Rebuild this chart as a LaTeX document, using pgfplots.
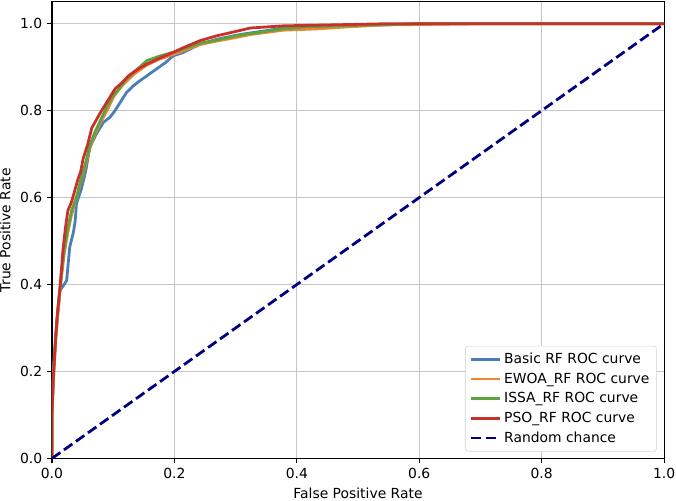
\documentclass[border=0pt]{standalone}
\usepackage{pgfplots}
\pgfplotsset{compat=1.18}
\usepackage{fontspec}
\setmainfont{DejaVu Sans}
\definecolor{cblue}{HTML}{4A7EBB}
\definecolor{corange}{HTML}{EE8631}
\definecolor{cgreen}{HTML}{5BA33F}
\definecolor{cred}{HTML}{C9302C}
\definecolor{cnavy}{HTML}{000080}
\begin{document}
\begin{tikzpicture}
\begin{axis}[
  scale only axis,
  width=440.6pt, height=328.6pt,
  xmin=0, xmax=1, ymin=0, ymax=1.05,
  xtick={0,0.2,...,1.0}, ytick={0,0.2,...,1.0},
  /pgf/number format/assume math mode=true,
  /pgf/number format/fixed, /pgf/number format/fixed zerofill, /pgf/number format/precision=1,
  tick label style={font=\fontsize{10}{12}\selectfont},
  label style={font=\fontsize{10}{12}\selectfont},
  xlabel={False Positive Rate}, ylabel={True Positive Rate},
  tick align=outside, tick pos=left,
  major tick length=3.5pt,
  every tick/.style={black, line width=0.8pt},
  axis line style={line width=0.8pt},
  grid=major, grid style={color=gray!45, line width=0.8pt},
  legend cell align=left,
  legend style={font=\fontsize{10}{12}\selectfont, draw=gray!35, rounded corners=2pt, at={(0.988,0.015)}, anchor=south east, inner xsep=3pt, inner ysep=3pt, row sep=1.2pt},
  legend image code/.code={\draw[#1, line width=2pt] (0pt,0pt) -- (21pt,0pt);},
]
\addplot[cblue, line width=2pt] coordinates {
(0,0)(0,0.1)(0.003,0.2)(0.006,0.28)(0.01,0.34)(0.013,0.386)(0.024,0.409)(0.029,0.486)(0.035,0.52)(0.038,0.547)(0.040,0.586)(0.048,0.62)(0.055,0.66)(0.062,0.716)(0.072,0.745)(0.084,0.773)(0.095,0.785)(0.103,0.80)(0.112,0.82)(0.122,0.842)(0.133,0.857)(0.144,0.869)(0.157,0.882)(0.171,0.896)(0.185,0.91)(0.198,0.926)(0.215,0.934)(0.242,0.953)(0.269,0.964)(0.307,0.975)(0.35,0.984)(0.378,0.99)(0.49,0.995)(0.6,1.0)(1,1)};
\addlegendentry{Basic RF ROC curve}
\addplot[corange, line width=2pt] coordinates {
(0,0)(0,0.1)(0.003,0.2)(0.006,0.27)(0.01,0.34)(0.015,0.41)(0.02,0.47)(0.026,0.52)(0.032,0.56)(0.04,0.60)(0.047,0.635)(0.055,0.675)(0.062,0.715)(0.07,0.745)(0.08,0.775)(0.09,0.80)(0.10,0.83)(0.11,0.85)(0.12,0.865)(0.135,0.885)(0.155,0.905)(0.175,0.918)(0.2,0.93)(0.242,0.952)(0.269,0.96)(0.30,0.968)(0.324,0.975)(0.378,0.985)(0.433,0.988)(0.476,0.992)(0.54,0.997)(0.6,0.998)(0.7,1)(1,1)};
\addlegendentry{EWOA\_RF ROC curve}
\addplot[cgreen, line width=2pt] coordinates {
(0,0)(0,0.12)(0.003,0.22)(0.006,0.28)(0.01,0.35)(0.015,0.42)(0.02,0.48)(0.026,0.53)(0.032,0.57)(0.04,0.60)(0.047,0.64)(0.055,0.68)(0.062,0.72)(0.07,0.75)(0.08,0.78)(0.09,0.81)(0.10,0.835)(0.11,0.85)(0.12,0.87)(0.135,0.89)(0.155,0.915)(0.175,0.925)(0.2,0.935)(0.215,0.942)(0.242,0.955)(0.269,0.962)(0.30,0.972)(0.324,0.977)(0.378,0.988)(0.42,0.993)(0.47,0.995)(0.55,0.998)(0.62,1)(1,1)};
\addlegendentry{ISSA\_RF ROC curve}
\addplot[cred, line width=2pt] coordinates {
(0,0)(0,0.10)(0.002,0.18)(0.005,0.25)(0.008,0.32)(0.013,0.39)(0.018,0.48)(0.022,0.53)(0.026,0.57)(0.032,0.59)(0.036,0.61)(0.042,0.64)(0.047,0.66)(0.051,0.69)(0.058,0.72)(0.065,0.76)(0.073,0.78)(0.081,0.80)(0.09,0.82)(0.103,0.85)(0.115,0.865)(0.125,0.88)(0.14,0.895)(0.155,0.907)(0.175,0.92)(0.198,0.934)(0.215,0.945)(0.242,0.961)(0.269,0.972)(0.30,0.982)(0.324,0.99)(0.378,0.995)(0.45,0.997)(0.55,1.0)(1,1)};
\addlegendentry{PSO\_RF ROC curve}
\addplot[cnavy, line width=2pt, dash pattern=on 7.4pt off 3.2pt] coordinates {(0,0)(1,1)};
\addlegendentry{Random chance}
\end{axis}
\pgfresetboundingbox
\path (current axis.south west) ++(-37.4pt,-30.2pt) coordinate (bl);
\path (current axis.north east) ++(8.6pt,1.4pt) coordinate (tr);
\path[use as bounding box] (bl) rectangle (tr);
\end{tikzpicture}
\end{document}
